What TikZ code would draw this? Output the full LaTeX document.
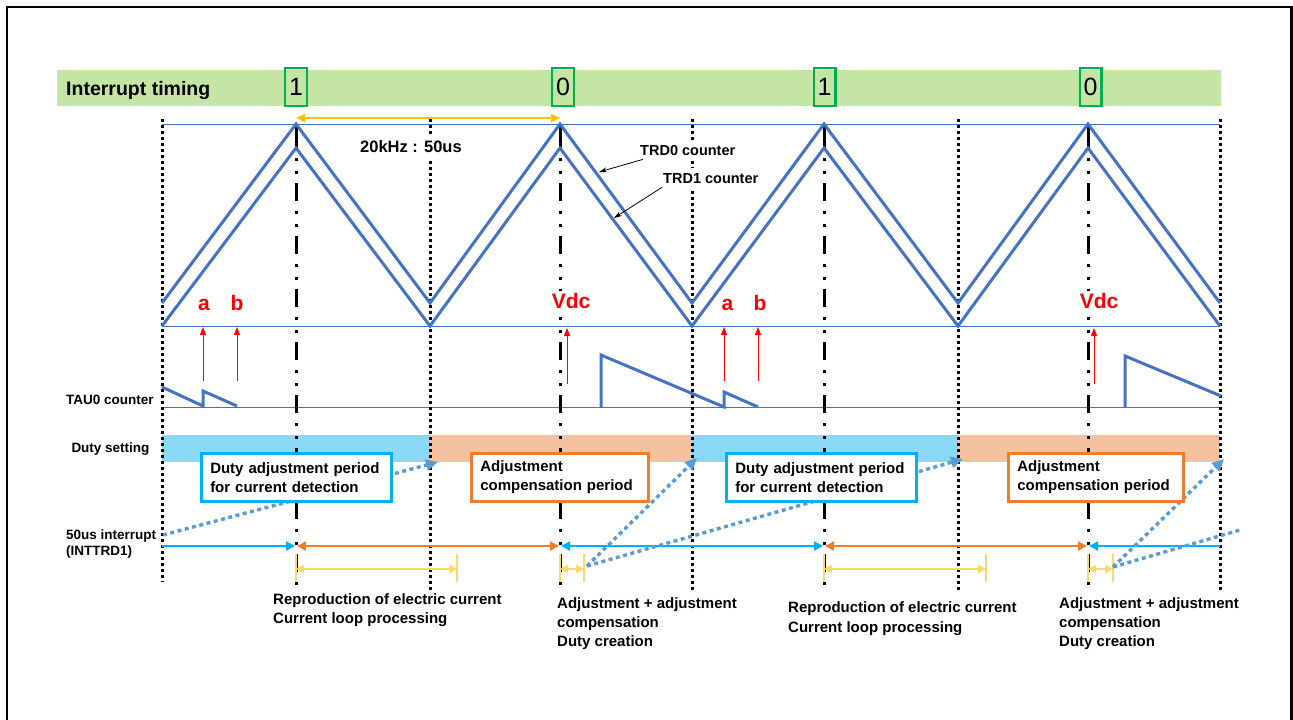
\documentclass[tikz,border=0pt]{standalone}
\usepackage{fontspec}
\setmainfont{Liberation Sans}
\usetikzlibrary{arrows.meta}

\definecolor{bandgreen}{RGB}{197,229,164}
\definecolor{boxgreen}{RGB}{0,176,80}
\definecolor{waveblue}{RGB}{68,114,196}
\definecolor{barblue}{RGB}{137,216,245}
\definecolor{barorange}{RGB}{245,193,158}
\definecolor{cyanline}{RGB}{0,176,240}
\definecolor{orangeline}{RGB}{237,125,49}
\definecolor{goldline}{RGB}{255,192,0}
\definecolor{paleyellow}{RGB}{255,217,102}
\definecolor{dotblue}{RGB}{91,155,213}
\definecolor{alertred}{RGB}{255,0,0}

\tikzset{
  frame/.style={line width=2.4pt},
  wave/.style={waveblue, line width=3pt, line join=miter},
  guide/.style={waveblue, line width=0.9pt},
  vdots/.style={line width=3pt, dash pattern=on 3pt off 3pt},
  dashdot/.style={line width=3pt, dash pattern=on 3pt off 10pt on 3pt off 9pt on 18pt off 10pt},
  numbox/.style={draw=boxgreen, line width=2.4pt, minimum width=21.6pt, minimum height=37.6pt,
    inner sep=0pt, font=\fontsize{25}{25}\selectfont},
  whitelab/.style={fill=white, inner xsep=6pt, inner ysep=5pt, anchor=base west},
  redlab/.style={text=alertred, font=\bfseries\fontsize{21}{21}\selectfont, inner sep=0pt, anchor=base},
  redarrow/.style={alertred, line width=0.9pt, -{Triangle[length=8pt,width=6pt]}},
  pointer/.style={black, line width=0.8pt, -{Stealth[length=8pt,width=5pt]}},
  sidelab/.style={font=\bfseries\fontsize{13.5}{15}\selectfont, inner sep=0pt},
  periodbox/.style={fill=white, line width=2.5pt, minimum height=48pt, align=left,
    inner xsep=9pt, anchor=north west, font=\bfseries\fontsize{15}{19}\selectfont},
  bodylab/.style={font=\bfseries\fontsize{15}{19}\selectfont, inner sep=0pt, anchor=base west},
  ytick/.style={paleyellow, line width=2.5pt},
  yarrow/.style={paleyellow, line width=2.5pt, {Triangle[length=8pt,width=8pt]}-{Triangle[length=8pt,width=8pt]}},
  dotarrow/.style={dotblue, line width=3.4pt, dash pattern=on 4pt off 3.5pt,
    -{Triangle[length=12pt,width=11pt]}},
  dotline/.style={dotblue, line width=3.4pt, dash pattern=on 4pt off 3.5pt}
}

\begin{document}
\begin{tikzpicture}[x=1pt,y=-1pt]
\useasboundingbox (0,0) rectangle (1293,720);

% outer frame, open at the bottom
\draw[frame] (7,724) -- (7,7) -- (1291.3,7) -- (1291.3,724);

% interrupt timing band
\fill[bandgreen] (57,70) rectangle (1220.5,105.5);
\node[font=\bfseries\fontsize{19.5}{20}\selectfont, inner sep=0pt, anchor=base west] (title) at (66,95) {Interrupt timing};
\node[numbox] (n1) at (296,87) {1};
\node[numbox] (n2) at (563,87) {0};
\node[numbox] (n3) at (824.5,87) {1};
\node[numbox] (n4) at (1090.5,87) {0};

% guide lines for counter top, counter bottom and TAU0 base
\draw[guide] (162,124) -- (1220,124);
\draw[guide] (162,326) -- (1220,326);
\draw[guide] (162,407) -- (1220,407);

% duty setting bars
\fill[barblue]   (162,435) rectangle (430,462);
\fill[barorange] (430,435) rectangle (692,462);
\fill[barblue]   (692,435) rectangle (958,462);
\fill[barorange] (958,435) rectangle (1220,462);

% valley markers (dotted) and peak markers (dash-dot)
\foreach \x/\b in {162/582, 430/590, 692/590, 958/590, 1220/590}
  \draw[vdots] (\x,119) -- (\x,\b);
\foreach \x in {296,560,824,1088} {
  \draw[line width=3pt] (\x,124) -- (\x,148);
  \draw[dashdot] (\x,158) -- (\x,590);
}

% period arrow
\draw[goldline, line width=2.6pt, {Triangle[length=9pt,width=8pt]}-{Triangle[length=9pt,width=8pt]}]
  (n1.south |- 0,118) coordinate (pa) -- (560,118) coordinate (pb);

% TRD0 / TRD1 triangle counters
\draw[wave] (162,303) -- (296,124) -- (430,303) -- (560,124) -- (692,303) -- (824,124)
  -- (958,303) -- (1088,124) -- (1220,303);
\draw[wave] (162,326) -- (296,148) -- (430,326) -- (560,148) -- (692,326) -- (824,148)
  -- (958,326) -- (1088,148) -- (1220,326);

% TAU0 sawtooth
\draw[wave] (162,387) -- (203,406) -- (203,391) -- (237,406);
\draw[wave] (601,407) -- (601,355) -- (724,407) -- (724,392) -- (758,407);
\draw[wave] (1125,407) -- (1125,356) -- (1221,396);

% labels over the counters
\node[whitelab, font=\bfseries\fontsize{16.5}{17}\selectfont] (freq) at (354,152.7) {20kHz : 50us};
\node[whitelab, font=\bfseries\fontsize{14.5}{15}\selectfont] (trd0) at (634,155) {TRD0 counter};
\node[whitelab, font=\bfseries\fontsize{14.5}{15}\selectfont] (trd1) at (657,183) {TRD1 counter};
\coordinate (trd0pt) at (599,172);
\coordinate (trd1pt) at (614,218);
\draw[pointer] ([xshift=9pt,yshift=1pt]trd0.south west) -- (trd0pt);
\draw[pointer] ([xshift=5pt,yshift=1pt]trd1.south west) -- (trd1pt);

% sampling points
\node[redlab] (a1) at (204,310.7) {a};
\node[redlab] (b1) at (237,310.7) {b};
\node[redlab, fill=white, inner sep=2pt] (v1) at (571,308.3) {Vdc};
\node[redlab] (a2) at (727.5,310.7) {a};
\node[redlab] (b2) at (760,310.7) {b};
\node[redlab, fill=white, inner sep=2pt] (v2) at (1099,308.3) {Vdc};
\draw[redarrow] (203,381) coordinate (a1s) -- (203,327) coordinate (a1e);
\draw[redarrow] (237,381) coordinate (b1s) -- (237,327) coordinate (b1e);
\draw[redarrow] (567,384) coordinate (v1s) -- (567,328) coordinate (v1e);
\draw[redarrow] (724,381) coordinate (a2s) -- (724,327) coordinate (a2e);
\draw[redarrow] (758,381) coordinate (b2s) -- (758,327) coordinate (b2e);
\draw[redarrow] (1094,384) coordinate (v2s) -- (1094,328) coordinate (v2e);

% row labels
\node[sidelab, anchor=base] (tau) at (110,404) {TAU0 counter};
\node[sidelab, anchor=base] (duty) at (110.5,452) {Duty setting};
\node[sidelab, anchor=base west] (int1) at (66,539) {50us interrupt};
\node[sidelab, anchor=base west] (int2) at (66,555) {(INTTRD1)};

% interrupt intervals
\draw[cyanline, line width=2.6pt, -{Triangle[length=9pt,width=9pt]}] (162,546) -- (295,546);
\draw[orangeline, line width=2.6pt, {Triangle[length=9pt,width=9pt]}-{Triangle[length=9pt,width=9pt]}] (297,546) -- (559,546);
\draw[cyanline, line width=2.6pt, {Triangle[length=9pt,width=9pt]}-{Triangle[length=9pt,width=9pt]}] (561,546) -- (823,546);
\draw[orangeline, line width=2.6pt, {Triangle[length=9pt,width=9pt]}-{Triangle[length=9pt,width=9pt]}] (825,546) -- (1087,546);
\draw[cyanline, line width=2.6pt, {Triangle[length=9pt,width=9pt]}-] (1089,546) -- (1220,546);

% processing time brackets
\foreach \a/\b in {296/457, 560/584, 824/986, 1088/1113} {
  \draw[ytick] (\a,554) -- (\a,582);
  \draw[ytick] (\b,554) -- (\b,582);
  \draw[yarrow] (\a,569) -- (\b,569);
}

% update paths into the duty setting
\coordinate (s1) at (163,535);
\coordinate (s2) at (587,566);
\coordinate (s3) at (1113,567);
\draw[dotarrow] (s1) -- (438,462);
\draw[dotarrow] (s2) -- (697,458);
\draw[dotarrow] (s2) -- (963,459);
\draw[dotarrow] (s3) -- (1224,459);
\draw[dotline] (s3) -- (1240,530);

% period boxes
\node[periodbox, draw=cyanline, text width=172pt] (box1) at (200,452)
  {Duty adjustment period\\for current detection};
\node[periodbox, draw=orangeline, text width=159pt] (box2) at (470,452)
  {Adjustment\\compensation period};
\node[periodbox, draw=cyanline, text width=172pt] (box3) at (725,452)
  {Duty adjustment period\\for current detection};
\node[periodbox, draw=orangeline, text width=157pt] (box4) at (1007,452)
  {Adjustment\\compensation period};

% processing descriptions
\node[bodylab] (r1a) at (273,604) {Reproduction of electric current};
\node[bodylab] (r1b) at (273,623) {Current loop processing};
\node[bodylab] (c1a) at (557,608) {Adjustment + adjustment};
\node[bodylab] (c1b) at (557,627) {compensation};
\node[bodylab] (c1c) at (557,646) {Duty creation};
\node[bodylab] (r2a) at (788,612) {Reproduction of electric current};
\node[bodylab] (r2b) at (788,632) {Current loop processing};
\node[bodylab] (c2a) at (1059,608) {Adjustment + adjustment};
\node[bodylab] (c2b) at (1059,627) {compensation};
\node[bodylab] (c2c) at (1059,646) {Duty creation};
\end{tikzpicture}
\end{document}
